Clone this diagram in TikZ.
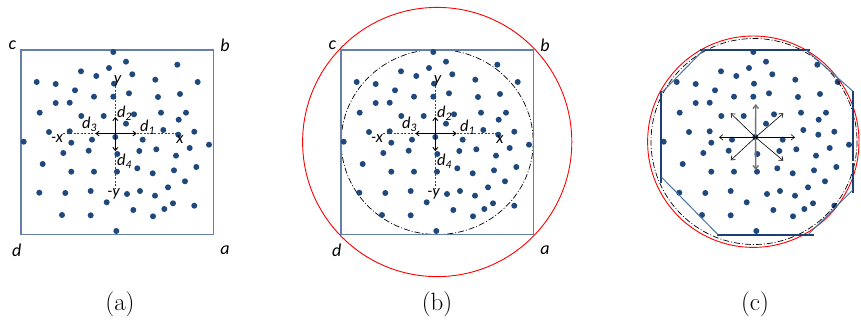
\documentclass[tikz,border=0pt]{standalone}
\usepackage{fontspec}
\newfontfamily\calib{Carlito}
\usetikzlibrary{arrows.meta}
\definecolor{dotblue}{RGB}{31,73,125}
\definecolor{sqblue}{RGB}{100,128,170}
\definecolor{octblue}{RGB}{30,62,118}
\definecolor{diagblue}{RGB}{75,115,165}
\tikzset{
  dotstyle/.style={fill=dotblue},
  sqstyle/.style={draw=sqblue,line width=1.1pt},
  axisline/.style={dash pattern=on 2pt off 1.5pt, line width=0.5pt, black!75},
  darrow/.style={-{Straight Barb[length=3pt,width=5pt]}, line width=0.9pt},
  carrow/.style={-{Straight Barb[length=3.5pt,width=5.5pt]}, line width=0.6pt},
  dashdot/.style={dash pattern=on 6pt off 2pt on 1pt off 2pt, line width=0.7pt},
  redc/.style={draw=red, line width=0.9pt},
  corner/.style={font=\calib\itshape\fontsize{18}{21}\selectfont, inner sep=0pt},
  axlab/.style={font=\calib\itshape\fontsize{16.5}{19}\selectfont, inner sep=0pt},
  caption/.style={font=\fontsize{25}{29}\selectfont, inner sep=0pt},
}
\newcommand\dotfield{%
  \foreach \px/\py in {113.3/52.0,126.0/61.7,177.3/64.7,81.0/71.3,109.0/68.0,96.3/76.0,132.3/74.3,
    36.7/82.0,55.7/84.0,155.3/79.7,197.7/82.0,114.0/83.7,75.0/90.3,129.0/93.3,94.0/96.7,113.3/96.7,
    158.0/97.0,180.0/94.0,55.7/103.0,69.7/102.7,39.7/112.7,81.3/116.0,103.7/116.0,134.0/114.3,
    161.0/112.7,186.0/112.7,178.7/119.7,126.0/123.7,49.0/132.0,69.7/131.3,163.3/130.0,194.3/131.7,
    178.3/134.7,23.7/141.7,92.0/139.7,71.3/142.7,115.3/137.0,142.7/139.7,209.0/144.7,88.7/150.7,
    63.3/153.0,139.3/151.0,156.3/149.3,189.7/148.0,117.3/154.0,176.0/155.7,42.7/164.0,137.3/168.3,
    196.3/167.0,71.3/171.7,94.0/171.7,117.0/171.7,152.7/173.3,174.0/170.3,185.0/181.3,39.3/192.7,
    65.3/193.0,90.7/191.0,127.0/194.0,140.0/191.0,155.0/195.7,168.0/187.3,106.7/202.3,173.0/203.3,
    194.3/205.7,133.3/210.0,164.3/209.0,62.0/215.0,90.7/215.3,153.0/216.3,116.3/231.0}
  {\fill[dotstyle] (\px,\py) circle (3.0);}%
}
\newcommand\squarepanel{%
  \draw[sqstyle] (21,50) rectangle (213.3,234.3);
  \dotfield
  \node[corner] (c) at (12.3,45) {c};
  \node[corner] (b) at (225,45) {b};
  \node[corner] (d) at (16.7,250) {d};
  \node[corner] (a) at (225,250) {a};
  \coordinate (o) at (115.3,133.5);
  \coordinate (hl) at (63,133.5);
  \coordinate (hr) at (177,133.5);
  \coordinate (vt) at (115.3,86);
  \coordinate (vb) at (115.3,189);
  \coordinate (e1) at (136.5,133.5);
  \coordinate (e3) at (95.5,133.5);
  \coordinate (e2) at (115.3,117);
  \coordinate (e4) at (115.3,151);
  \draw[axisline] (hl) -- (hr);
  \draw[axisline] (vt) -- (vb);
  \draw[darrow] (o) -- (e1);
  \draw[darrow] (o) -- (e2);
  \draw[darrow] (o) -- (e3);
  \draw[darrow] (o) -- (e4);
  \node[axlab] (lx) at (180,140) {x};
  \node[axlab] (lmx) at (57,138.5) {-x};
  \node[axlab] (ly) at (117.5,81) {y};
  \node[axlab] (lmy) at (113.5,194) {-y};
  \node[axlab] (l1) at (147.5,127) {d\textsubscript{1}};
  \node[axlab] (l2) at (124.5,113) {d\textsubscript{2}};
  \node[axlab] (l3) at (89.5,124.5) {d\textsubscript{3}};
  \node[axlab] (l4) at (124.5,161.5) {d\textsubscript{4}};
}
\begin{document}
\begin{tikzpicture}[x=1pt,y=-1pt]
\useasboundingbox (0,0) rectangle (861,329);
% (a)
\begin{scope}[name prefix=pa-]
  \squarepanel
\end{scope}
% (b)
\begin{scope}[xshift=320pt, name prefix=pb-]
  \draw[dashdot] (117.2,142) ellipse [x radius=96, y radius=92.5];
  \draw[redc] (117.2,142) circle (134.6);
  \squarepanel
\end{scope}
% (c)
\begin{scope}[xshift=640pt, name prefix=pc-]
  \dotfield
  \draw[redc] (113.3,141.7) circle (105.7);
  \draw[dashdot] (114,141.5) circle (103);
  % octagon: thick axis-aligned sides
  \draw[octblue, line width=2.2pt] (60,50) -- (170,50);
  \draw[octblue, line width=2.2pt] (212.7,91) -- (212.7,160.5);
  \draw[octblue, line width=2.2pt] (212.7,163) -- (212.7,193);
  \draw[octblue, line width=2.2pt] (76.7,234.7) -- (174,234.7);
  \draw[octblue, line width=2.2pt] (21.3,91) -- (21.3,183.3);
  % thin diagonal sides
  \draw[diagblue, line width=1pt] (21.3,93) -- (65,48.5);
  \draw[diagblue, line width=1pt] (166,50) -- (212.7,91);
  \draw[diagblue, line width=1pt] (212.7,190) -- (168,234.7);
  \draw[diagblue, line width=1pt] (21.3,177) -- (78,234.7);
  % arrows
  \coordinate (o) at (115.5,137.3);
  \coordinate (er) at (155,137.3);
  \coordinate (el) at (79,137.3);
  \coordinate (eu) at (115.8,104);
  \coordinate (ed) at (115.8,170);
  \coordinate (ene) at (143.3,113.3);
  \coordinate (enw) at (90.7,113.3);
  \coordinate (ese) at (143.3,160.7);
  \coordinate (esw) at (90.7,160.3);
  \draw[carrow] (o) -- (er);
  \draw[carrow] (o) -- (el);
  \draw[carrow, black!55, line width=1.4pt] (o) -- (eu);
  \draw[carrow, black!55, line width=1.4pt] (o) -- (ed);
  \draw[carrow] (o) -- (ene);
  \draw[carrow] (o) -- (enw);
  \draw[carrow] (o) -- (ese);
  \draw[carrow] (o) -- (esw);
\end{scope}
% captions
\node[caption] (capa) at (120,304) {(a)};
\node[caption] (capb) at (437,304) {(b)};
\node[caption] (capc) at (755,304) {(c)};
\end{tikzpicture}
\end{document}
